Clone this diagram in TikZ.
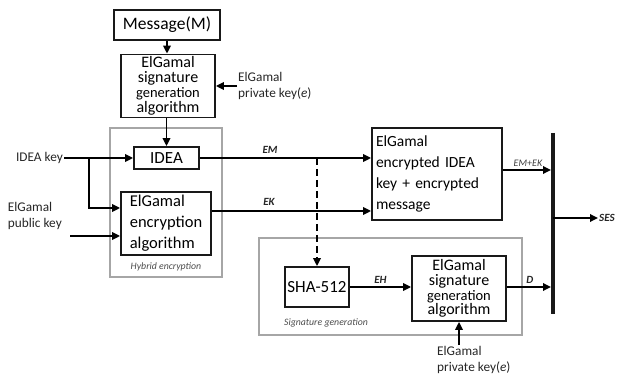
\documentclass[tikz,border=0pt]{standalone}
\usepackage{fontspec}
\setmainfont{Carlito}
\usetikzlibrary{arrows.meta}
\begin{document}
\begin{tikzpicture}[x=1pt,y=-1pt,
  font=\fontsize{17}{17}\selectfont,
  blk/.style={draw=black!90, line width=1.8pt, inner sep=0pt, align=center},
  grp/.style={draw=black!35, line width=1.2pt, inner sep=0pt},
  arr/.style={line width=1.7pt, -{Triangle[length=8pt,width=7.5pt]}},
  side/.style={font=\fontsize{13.3}{16.5}\selectfont, inner sep=1pt, text=black!85},
  sig/.style={font=\bfseries\itshape\fontsize{11}{12}\selectfont, inner sep=1pt, text=black!85},
  sigtext/.style={font=\fontsize{16}{14.8}\selectfont},
  note/.style={font=\itshape\fontsize{9.8}{11}\selectfont, text=black!70, inner sep=0pt}]
\useasboundingbox (0,0) rectangle (629,379);

% grouping frames
\node[grp, minimum width=112pt, minimum height=149pt] (hyb) at (166,202.5) {};
\node[grp, minimum width=263pt, minimum height=97pt] (sgrp) at (390.5,286.5) {};

% processing blocks
\node[blk, minimum width=106pt, minimum height=30pt, font=\fontsize{17.5}{17.5}\selectfont] (msg) at (167,25) {Message(M)};
\node[blk, minimum width=94pt, minimum height=63pt, sigtext] (sig1) at (168,86)
  {ElGamal\\signature\\{\fontsize{14.5}{14.8}\selectfont generation}\\algorithm};
\node[blk, minimum width=65pt, minimum height=22pt] (idea) at (166.5,158) {IDEA};
\node[blk, minimum width=90pt, minimum height=63pt, align=left, font=\fontsize{16.5}{21}\selectfont] (enc) at (166,223.5)
  {ElGamal\\encryption\\algorithm};
\node[blk, text width=122pt, inner xsep=4pt, minimum height=92pt, align=left, font=\fontsize{15.5}{21}\selectfont] (big) at (437,174)
  {ElGamal\\encrypted IDEA\\key + encrypted\\message};
\node[blk, minimum width=64pt, minimum height=40pt] (sha) at (317,287) {SHA-512};
\node[blk, minimum width=94pt, minimum height=65pt, sigtext] (sig2) at (459,288.5)
  {ElGamal\\signature\\{\fontsize{14.5}{14.8}\selectfont generation}\\algorithm};

% inputs
\node[side, anchor=west, align=left] (pk1) at (237,86) {ElGamal\\private key(\textit{e})};
\node[side, anchor=east] (ideakey) at (64,158) {IDEA key};
\node[side, anchor=east, align=left] (pubkey) at (63,216) {ElGamal\\public key};
\node[side, anchor=north west, align=left] (pk2) at (436,345) {ElGamal\\private key(\textit{e})};

% frame captions
\node[note] (hybl) at (166,267) {Hybrid encryption};
\node[note] (sgl) at (326,323) {Signature generation};

% output bus
\coordinate (bartop) at (553,133);
\coordinate (barbot) at (553,314);
\draw[line width=4.5pt, black!90] (bartop) -- (barbot);
\node[sig, anchor=west] (ses) at (598,218) {SES};

\coordinate (br) at (89,158);
\coordinate (pubin) at (70,236);

% connectors
\draw[arr] (msg.south) -- (msg.south |- sig1.north);
\draw[arr] (pk1.west) -- (pk1.west -| sig1.east);
\draw[arr] (sig1.south -| idea.north) -- (idea.north);
\draw[arr] (ideakey.east) -- (idea.west);
\draw[arr] (br) |- ([yshift=15.5pt]enc.west);
\draw[arr] (pubin) -- (pubin -| enc.west);
\draw[arr] (idea.east) -- (idea.east -| big.west);
\draw[arr] ([yshift=12.5pt]enc.east) -- ([yshift=12.5pt]enc.east -| big.west);
\node[sig] (eml) at (270,150) {EM};
\node[sig] (ekl) at (269,202) {EK};
\draw[arr, dash pattern=on 7pt off 4pt] (sha.north |- idea.east) -- (sha.north);
\draw[arr, shorten >=2pt] ([yshift=4pt]big.east) -- ([yshift=4pt]big.east -| bartop)
  node[midway, above=3pt, font=\itshape\fontsize{10}{11}\selectfont, text=black!75, inner sep=0pt] {EM+EK};
\draw[arr] (bartop |- ses.west) -- (ses.west);
\draw[arr] (sha.east) -- (sha.east -| sig2.west) node[midway, above=2pt, sig] {EH};
\draw[arr, shorten >=2pt] (sha.east -| sig2.east) -- (sha.east -| bartop) node[midway, above=2pt, sig] {D};
\draw[arr] (sig2.south |- pk2.north) -- (sig2.south);
\end{tikzpicture}
\end{document}
